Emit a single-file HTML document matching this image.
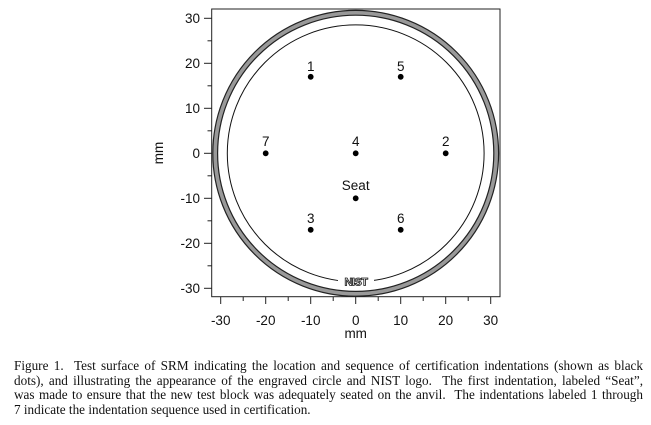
<!DOCTYPE html>
<html><head><meta charset="utf-8"><style>
html,body{margin:0;padding:0;background:#fff;width:651px;height:425px;overflow:hidden}
svg{position:absolute;left:0;top:0}
.cap{position:absolute;left:14px;width:629px;font-family:"Liberation Serif",serif;font-size:13.2px;line-height:14px;color:#111;white-space:nowrap}
.j{text-align:justify;text-align-last:justify}
</style></head><body>
<svg width="651" height="345" viewBox="0 0 651 345" font-family="Liberation Sans, sans-serif" font-size="13.5" fill="#111">
<rect x="211.7" y="9" width="288.3" height="287.7" fill="none" stroke="#222" stroke-width="1"/>
<circle cx="355.7" cy="153.3" r="140.5" fill="none" stroke="#222" stroke-width="6"/>
<circle cx="355.7" cy="153.3" r="140.5" fill="none" stroke="#999" stroke-width="3.6"/>
<circle cx="355.7" cy="153.3" r="128.4" fill="none" stroke="#111" stroke-width="1"/>
<rect x="338" y="276" width="36" height="10" fill="#fff"/>
<text x="356" y="285.5" text-anchor="middle" font-size="11" font-weight="bold" fill="#fff" stroke="#111" stroke-width="0.8" letter-spacing="-0.5">NIST</text>
<g stroke="#222" stroke-width="1">
<line x1="204" x2="211.7" y1="18.3" y2="18.3"/><line x1="204" x2="211.7" y1="63.3" y2="63.3"/><line x1="204" x2="211.7" y1="108.3" y2="108.3"/><line x1="204" x2="211.7" y1="153.3" y2="153.3"/><line x1="204" x2="211.7" y1="198.3" y2="198.3"/><line x1="204" x2="211.7" y1="243.3" y2="243.3"/><line x1="204" x2="211.7" y1="288.3" y2="288.3"/>
<line x1="207.5" x2="211.7" y1="40.8" y2="40.8"/><line x1="207.5" x2="211.7" y1="85.8" y2="85.8"/><line x1="207.5" x2="211.7" y1="130.8" y2="130.8"/><line x1="207.5" x2="211.7" y1="175.8" y2="175.8"/><line x1="207.5" x2="211.7" y1="220.8" y2="220.8"/><line x1="207.5" x2="211.7" y1="265.8" y2="265.8"/>
<line y1="296.7" y2="304" x1="220.7" x2="220.7"/><line y1="296.7" y2="304" x1="265.7" x2="265.7"/><line y1="296.7" y2="304" x1="310.7" x2="310.7"/><line y1="296.7" y2="304" x1="355.7" x2="355.7"/><line y1="296.7" y2="304" x1="400.7" x2="400.7"/><line y1="296.7" y2="304" x1="445.7" x2="445.7"/><line y1="296.7" y2="304" x1="490.7" x2="490.7"/>
<line y1="296.7" y2="301" x1="243.2" x2="243.2"/><line y1="296.7" y2="301" x1="288.2" x2="288.2"/><line y1="296.7" y2="301" x1="333.2" x2="333.2"/><line y1="296.7" y2="301" x1="378.2" x2="378.2"/><line y1="296.7" y2="301" x1="423.2" x2="423.2"/><line y1="296.7" y2="301" x1="468.2" x2="468.2"/>
</g>
<g text-anchor="end">
<text x="200" y="23">30</text><text x="200" y="68">20</text><text x="200" y="113">10</text><text x="200" y="158">0</text><text x="200" y="203">-10</text><text x="200" y="248">-20</text><text x="200" y="293">-30</text>
</g>
<g text-anchor="middle">
<text x="220.7" y="325">-30</text><text x="265.7" y="325">-20</text><text x="310.7" y="325">-10</text><text x="355.7" y="325">0</text><text x="400.7" y="325">10</text><text x="445.7" y="325">20</text><text x="490.7" y="325">30</text>
<text x="355.7" y="338">mm</text>
<text transform="translate(163,153) rotate(-90)">mm</text>
<text x="310.7" y="71">1</text><text x="400.7" y="71">5</text>
<text x="265.7" y="146">7</text><text x="355.7" y="146">4</text><text x="445.7" y="146">2</text>
<text x="355.7" y="190">Seat</text>
<text x="310.7" y="223">3</text><text x="400.7" y="223">6</text>
</g>
<g fill="#000">
<circle cx="310.7" cy="76.8" r="2.9"/><circle cx="400.7" cy="76.8" r="2.9"/>
<circle cx="265.7" cy="153.3" r="2.9"/><circle cx="355.7" cy="153.3" r="2.9"/><circle cx="445.7" cy="153.3" r="2.9"/>
<circle cx="355.7" cy="198.3" r="2.9"/>
<circle cx="310.7" cy="229.8" r="2.9"/><circle cx="400.7" cy="229.8" r="2.9"/>
</g>
</svg>
<div class="cap j" style="top:359px">Figure 1.&nbsp; Test surface of SRM indicating the location and sequence of certification indentations (shown as black</div>
<div class="cap j" style="top:373.5px">dots), and illustrating the appearance of the engraved circle and NIST logo.&nbsp; The first indentation, labeled “Seat”,</div>
<div class="cap j" style="top:388px">was made to ensure that the new test block was adequately seated on the anvil.&nbsp; The indentations labeled 1 through</div>
<div class="cap" style="top:402.5px">7 indicate the indentation sequence used in certification.</div>
</body></html>
